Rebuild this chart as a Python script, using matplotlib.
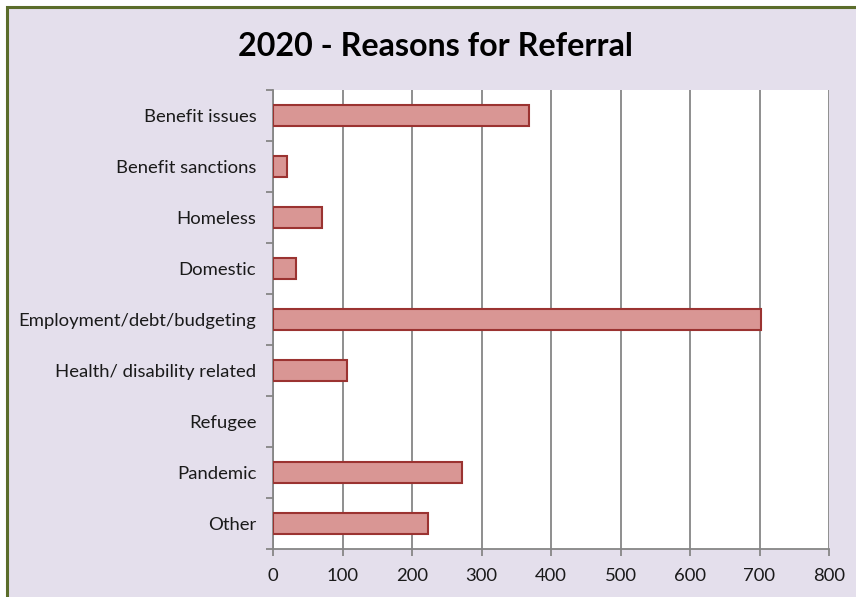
import matplotlib
matplotlib.use("Agg")
import matplotlib.pyplot as plt
from matplotlib.patches import Rectangle
import numpy as np

categories = ["Benefit issues", "Benefit sanctions", "Homeless", "Domestic",
              "Employment/debt/budgeting", "Health/ disability related",
              "Refugee", "Pandemic", "Other"]
values = [368, 20, 70, 33, 702, 106, 0, 272, 223]
x_ticks = [0, 100, 200, 300, 400, 500, 600, 700, 800]

W, H = 856, 597
fig = plt.figure(figsize=(W / 100, H / 100), dpi=100, facecolor="white")

# chart-area background with the olive frame (top/left edges visible)
frame = Rectangle((7 / W, -0.05), 1.1, 1 - 7 / H + 0.05, transform=fig.transFigure,
                  facecolor="#e4dfec", edgecolor="#5b6d2b", linewidth=2.2, zorder=-1)
fig.patches.append(frame)

ax = fig.add_axes([273 / W, (H - 549) / H, (829 - 273) / W, (549 - 90) / H])
ax.set_zorder(2)
ax.set_facecolor("white")

font = "Lato"
n = len(categories)
ypos = np.arange(n)
bars = ax.barh(ypos, values, height=0.41, color="#d99694", edgecolor="#9b3331",
               linewidth=1.5, zorder=3)
for bar, v in zip(bars, values):
    if v == 0:
        bar.set_linewidth(0)

ax.set_xlim(0, 800)
ax.set_ylim(n - 0.5, -0.5)
ax.set_xticks(x_ticks)
ax.set_xticklabels([str(t) for t in x_ticks], fontsize=13.3, family=font, color="#1a1a1a")

# category labels centered on bars, tick marks at the category boundaries
ax.set_yticks(np.arange(-0.5, n, 1.0))
ax.set_yticklabels([])
ax.set_yticks(ypos, minor=True)
ax.set_yticklabels(categories, minor=True, fontsize=13.3, family=font, color="#1a1a1a")
ax.tick_params(axis="y", which="minor", length=0, pad=12)
ax.tick_params(axis="y", which="major", length=5, width=1.3, color="#868686")
ax.tick_params(axis="x", length=5, width=1.3, color="#868686", pad=9)

ax.grid(axis="x", color="#868686", linewidth=1.3, zorder=1)
ax.set_axisbelow(True)
for side in ("top", "right"):
    ax.spines[side].set_visible(False)
for side in ("left", "bottom"):
    ax.spines[side].set_color("#868686")
    ax.spines[side].set_linewidth(1.3)

fig.text(435 / W, 1 - 46 / H, "2020 - Reasons for Referral", ha="center", va="center",
         fontsize=23.2, fontweight="bold", family=font, color="black")

fig.savefig("out.png", dpi=100, facecolor=fig.get_facecolor())
